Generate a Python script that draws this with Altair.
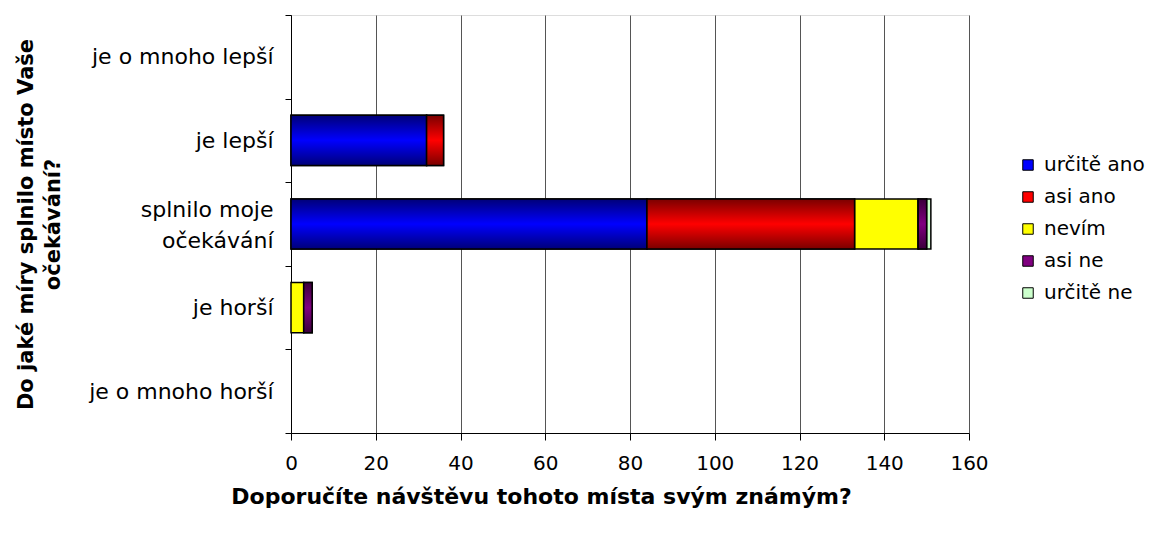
import altair as alt
import pandas as pd

categories = ["je o mnoho lepší", "je lepší", "splnilo moje očekávání", "je horší", "je o mnoho horší"]
category_labels = ["je o mnoho lepší", "je lepší", "splnilo moje|očekávání ", "je horší", "je o mnoho horší"]
series = ["určitě ano", "asi ano", "nevím", "asi ne", "určitě ne"]
urcite_ano = [0, 32, 84, 0, 0]
asi_ano = [0, 4, 49, 0, 0]
nevim = [0, 0, 15, 3, 0]
asi_ne = [0, 0, 2, 2, 0]
urcite_ne = [0, 0, 1, 0, 0]
x_ticks = [0, 20, 40, 60, 80, 100, 120, 140, 160]

colors = ["#0000FF", "#FF0000", "#FFFF00", "#800080", "#CCFFCC"]
dark = {"určitě ano": "#000078", "asi ano": "#7A0000", "asi ne": "#3A003A"}

rows = []
for si, (s, vals) in enumerate(zip(series, [urcite_ano, asi_ano, nevim, asi_ne, urcite_ne])):
    for c, v in zip(categories, vals):
        if v > 0:
            rows.append({"cat": c, "series": s, "order": si, "value": v})
df = pd.DataFrame(rows)

FONT = "DejaVu Sans"

base = alt.Chart(df).transform_stack(
    stack="value", as_=["x0", "x1"], groupby=["cat"],
    sort=[alt.SortField("order", order="ascending")]
)

label_map = "{" + ", ".join(f"'{c}': '{l}'" for c, l in zip(categories, category_labels)) + "}"

Y = alt.Y(
    "cat:N", sort=categories,
    scale=alt.Scale(domain=categories, paddingInner=0, paddingOuter=0),
    axis=alt.Axis(
        tickBand="extent", tickSize=6, tickColor="#000", domainColor="#000",
        labelFontSize=22, labelFont=FONT, labelColor="#000", labelPadding=12,
        labelLimit=400,
        labelExpr=f"split({label_map}[datum.value] || '', '|')", labelLineHeight=31,
        labelOffset={"condition": {"test": f"datum.value == '{categories[2]}'", "value": -15}, "value": 0},
        titleFontSize=21, titleFont=FONT, titleFontWeight="bold", titleColor="#000",
        titlePadding=28, titleLineHeight=27, grid=False,
    ),
    title=["Do jaké míry splnilo místo Vaše", "očekávání?"],
)
X = alt.X(
    "x0:Q",
    scale=alt.Scale(domain=[0, 160], nice=False),
    axis=alt.Axis(
        values=x_ticks, tickSize=7, tickColor="#000", domainColor="#000",
        labelFontSize=20, labelFont=FONT, labelColor="#000", labelPadding=13,
        labelFlush=False,
        titleFontSize=22, titleFont=FONT, titleFontWeight="bold", titleColor="#000",
        titlePadding=13, titleX=250, titleAlign="center",
        grid=True, gridColor="#555", gridWidth=1,
    ),
    title="Doporučíte návštěvu tohoto místa svým známým?",
)

bar_h = alt.RelativeBandSize(0.6)

bars = base.mark_bar(stroke="#000", strokeWidth=1.5, height=bar_h).encode(
    x=X, x2="x1:Q", y=Y,
    color=alt.Color(
        "series:N",
        scale=alt.Scale(domain=series, range=colors),
        legend=alt.Legend(
            title=None, orient="none", legendX=727, legendY=140,
            symbolType="square", symbolSize=110, symbolStrokeColor="#000",
            symbolStrokeWidth=1, labelFontSize=20, labelFont=FONT, labelColor="#000",
            rowPadding=12, labelOffset=6, labelLimit=300,
        ),
    ),
)

layers = [bars]
for s in ["určitě ano", "asi ano", "asi ne"]:
    c = colors[series.index(s)]
    grad = alt.Gradient(
        gradient="linear", x1=0, x2=0, y1=0, y2=1,
        stops=[alt.GradientStop(color=dark[s], offset=0),
               alt.GradientStop(color=c, offset=0.5),
               alt.GradientStop(color=dark[s], offset=1)],
    )
    layers.append(
        base.transform_filter(alt.datum.series == s)
        .mark_bar(fill=grad, stroke="#000", strokeWidth=1.5, height=bar_h)
        .encode(x=X, x2="x1:Q", y=Y)
    )

chart = alt.layer(*layers).properties(
    width=678, height=418,
    autosize=alt.AutoSizeParams(type="none"),
    padding={"left": 283, "top": 7, "right": 182, "bottom": 92},
).configure_view(stroke="#333", strokeWidth=1).configure(background="white")

chart.save("out.html", embed_options={"renderer": "svg", "actions": False})
